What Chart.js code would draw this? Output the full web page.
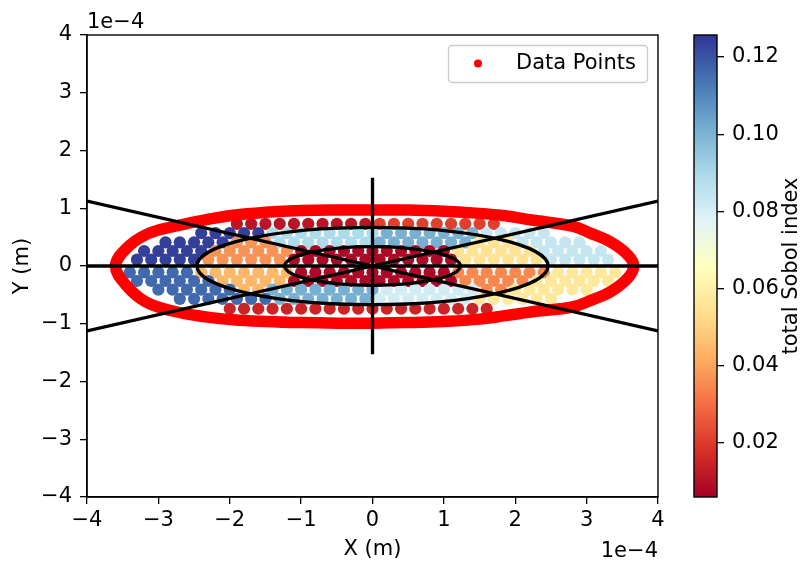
<!DOCTYPE html>
<html><head><meta charset="utf-8">
<script src="https://cdn.jsdelivr.net/npm/chart.js@4.4.1/dist/chart.umd.min.js"></script>
<style>
html,body{margin:0;padding:0;background:#fff;}
#wrap{position:relative;width:804px;height:565px;overflow:hidden;}
#main{position:absolute;left:0;top:0;}
#cb{position:absolute;left:680px;top:0;}
</style></head><body>
<div id="wrap"><canvas id="main" width="804" height="565"></canvas><canvas id="cb" width="124" height="565"></canvas></div>
<script>
// ---- data (x, y in units of 1e-4 m) ----
const axisTicks = [-4,-3,-2,-1,0,1,2,3,4];
const cbTicks = [0.02,0.04,0.06,0.08,0.10,0.12];
const cbMin = 0.006, cbMax = 0.1257;

// interior points, row by row
const rowY = [0.73, 0.57, 0.41, 0.26, 0.11, -0.11, -0.26, -0.41, -0.57, -0.74];
const row1X = [-1.9,-1.7,-1.5,-1.3,-1.1,-0.9,-0.7,-0.5,-0.3,-0.1,0.1,0.3,0.5,0.7,0.9,1.1,1.3,1.5,1.7];
const row1V = [0.011,0.011,0.011,0.011,0.011,0.011,0.011,0.011,0.011,0.011,0.021,0.021,0.021,0.021,0.021,0.021,0.021,0.021,0.021];
const row2X = [-2.4,-2.2,-2.0,-1.8,-1.6,-1.4,-1.2,-1.0,-0.8,-0.6,-0.4,-0.2,0,0.2,0.4,0.6,0.8,1.0,1.2,1.4,1.6,1.8,2.0,2.2,2.4];
const row2V = [0.124,0.124,0.124,0.124,0.124,0.089,0.089,0.089,0.089,0.089,0.089,0.089,0.089,0.101,0.101,0.101,0.101,0.101,0.101,0.101,0.084,0.084,0.084,0.084,0.084];
const row3X = [-2.9,-2.7,-2.5,-2.3,-2.1,-1.9,-1.7,-1.5,-1.3,-1.1,-0.9,-0.7,-0.5,-0.3,-0.1,0.1,0.3,0.5,0.7,0.9,1.1,1.3,1.5,1.7,1.9,2.1,2.3,2.5,2.7,2.9];
const row3V = [0.124,0.124,0.124,0.124,0.124,0.037,0.037,0.037,0.089,0.089,0.089,0.089,0.089,0.089,0.089,0.101,0.101,0.101,0.101,0.101,0.101,0.101,0.055,0.055,0.055,0.084,0.084,0.084,0.084,0.084];
const row4X = [-3.2,-3.0,-2.8,-2.6,-2.4,-2.2,-2.0,-1.8,-1.6,-1.4,-1.2,-1.0,-0.8,-0.6,-0.4,-0.2,0,0.2,0.4,0.6,0.8,1.0,1.2,1.4,1.6,1.8,2.0,2.2,2.4,2.6,2.8,3.0,3.2];
const row4V = [0.124,0.124,0.124,0.124,0.124,0.037,0.037,0.037,0.037,0.037,0.037,0.008,0.008,0.008,0.008,0.008,0.008,0.008,0.008,0.008,0.008,0.008,0.055,0.055,0.055,0.055,0.055,0.055,0.084,0.084,0.084,0.084,0.084];
const row5X = [-3.3,-3.1,-2.9,-2.7,-2.5,-2.3,-2.1,-1.9,-1.7,-1.5,-1.3,-1.1,-0.9,-0.7,-0.5,-0.3,-0.1,0.1,0.3,0.5,0.7,0.9,1.1,1.3,1.5,1.7,1.9,2.1,2.3,2.5,2.7,2.9,3.1,3.3];
const row5V = [0.124,0.124,0.124,0.124,0.124,0.037,0.037,0.037,0.037,0.037,0.037,0.008,0.008,0.008,0.008,0.008,0.008,0.008,0.008,0.008,0.008,0.008,0.008,0.055,0.055,0.055,0.055,0.055,0.055,0.084,0.084,0.084,0.084,0.084];
const row6X = [-3.4,-3.2,-3.0,-2.8,-2.6,-2.4,-2.2,-2.0,-1.8,-1.6,-1.4,-1.2,-1.0,-0.8,-0.6,-0.4,-0.2,0,0.2,0.4,0.6,0.8,1.0,1.2,1.4,1.6,1.8,2.0,2.2,2.4,2.6,2.8,3.0,3.2,3.4];
const row6V = [0.116,0.116,0.116,0.116,0.116,0.044,0.044,0.044,0.044,0.044,0.044,0.044,0.008,0.008,0.008,0.008,0.008,0.008,0.008,0.008,0.008,0.008,0.008,0.035,0.035,0.035,0.035,0.035,0.035,0.035,0.057,0.057,0.057,0.057,0.057];
const row7X = [-3.3,-3.1,-2.9,-2.7,-2.5,-2.3,-2.1,-1.9,-1.7,-1.5,-1.3,-1.1,-0.9,-0.7,-0.5,-0.3,-0.1,0.1,0.3,0.5,0.7,0.9,1.1,1.3,1.5,1.7,1.9,2.1,2.3,2.5,2.7,2.9,3.1,3.3];
const row7V = [0.116,0.116,0.116,0.116,0.116,0.116,0.044,0.044,0.044,0.044,0.044,0.008,0.008,0.008,0.008,0.008,0.008,0.008,0.008,0.008,0.008,0.008,0.008,0.035,0.035,0.035,0.035,0.035,0.057,0.057,0.057,0.057,0.057,0.057];
const row8X = [-3.0,-2.8,-2.6,-2.4,-2.2,-2.0,-1.8,-1.6,-1.4,-1.2,-1.0,-0.8,-0.6,-0.4,-0.2,0,0.2,0.4,0.6,0.8,1.0,1.2,1.4,1.6,1.8,2.0,2.2,2.4,2.6,2.8,3.0];
const row8V = [0.116,0.116,0.116,0.116,0.116,0.116,0.044,0.044,0.101,0.101,0.101,0.101,0.101,0.101,0.101,0.101,0.081,0.081,0.081,0.081,0.081,0.081,0.081,0.035,0.035,0.057,0.057,0.057,0.057,0.057,0.057];
const row9X = [-2.7,-2.5,-2.3,-2.1,-1.9,-1.7,-1.5,-1.3,-1.1,-0.9,-0.7,-0.5,-0.3,-0.1,0.1,0.3,0.5,0.7,0.9,1.1,1.3,1.5,1.7,1.9,2.1,2.3,2.5];
const row9V = [0.116,0.116,0.116,0.116,0.116,0.116,0.116,0.101,0.101,0.101,0.101,0.101,0.101,0.101,0.081,0.081,0.081,0.081,0.081,0.081,0.081,0.057,0.057,0.057,0.057,0.057,0.057];
const row10X = [-2.0,-1.8,-1.6,-1.4,-1.2,-1.0,-0.8,-0.6,-0.4,-0.2,0,0.2,0.4,0.6,0.8,1.0,1.2,1.4,1.6];
const row10V = [0.015,0.015,0.015,0.015,0.015,0.015,0.015,0.015,0.015,0.015,0.015,0.015,0.015,0.015,0.015,0.015,0.015,0.015,0.015];

// red boundary "Data Points" (closed outline)
const boundX = [0,-0.5,-1.0,-1.5,-1.95,-2.34,-2.8,-3.18,-3.46,-3.6,-3.46,-3.18,-2.8,-2.34,-1.95,-1.5,-1.0,-0.5,0,0.5,1.0,1.5,1.86,2.32,2.8,3.05,3.33,3.57,3.66,3.57,3.33,3.05,2.8,2.21,1.86,1.4,1.0,0.5,0];
const boundY = [0.97,0.97,0.96,0.93,0.88,0.80,0.68,0.54,0.29,0,-0.32,-0.62,-0.78,-0.88,-0.93,-0.96,-0.98,-0.99,-0.99,-0.98,-0.96,-0.92,-0.86,-0.78,-0.71,-0.6,-0.45,-0.22,0,0.2,0.42,0.57,0.69,0.80,0.87,0.92,0.95,0.97,0.97];

// black guide lines: [x1,y1,x2,y2]
const guideLines = [[-4,0,4,0],[0,-1.53,0,1.53],[-4,1.125,4,-1.125],[-4,-1.125,4,1.125]];
// guide ellipses centred at origin: semi-axes
const ellipseA = [2.46, 1.23];
const ellipseB = [0.67, 0.335];

// ---- colormap (RdYlBu) ----
const rdylbu = ['#a50026','#d73027','#f46d43','#fdae61','#fee090','#ffffbf','#e0f3f8','#abd9e9','#74add1','#4575b4','#313695'];
function hex2rgb(h){return [parseInt(h.slice(1,3),16),parseInt(h.slice(3,5),16),parseInt(h.slice(5,7),16)];}
function cmap(v){
  let t=(v-cbMin)/(cbMax-cbMin); t=Math.max(0,Math.min(1,t));
  const p=t*(rdylbu.length-1); const i=Math.min(Math.floor(p),rdylbu.length-2); const f=p-i;
  const a=hex2rgb(rdylbu[i]), b=hex2rgb(rdylbu[i+1]);
  return 'rgb('+a.map((c,k)=>Math.round(c+(b[k]-c)*f)).join(',')+')';
}

const rowsX=[row1X,row2X,row3X,row4X,row5X,row6X,row7X,row8X,row9X,row10X];
const rowsV=[row1V,row2V,row3V,row4V,row5V,row6V,row7V,row8V,row9V,row10V];
const interior=[];
rowsX.forEach((xs,r)=>xs.forEach((x,i)=>interior.push({x:x,y:rowY[r],v:rowsV[r][i]})));
const boundary=boundX.map((x,i)=>({x:x,y:boundY[i]}));

const FS=21;
const FONT={family:'DejaVu Sans',size:FS};
const fmt=v=>v<0?'\u2212'+Math.abs(v):String(v);

const datasets=[];
guideLines.forEach(l=>datasets.push({data:[{x:l[0],y:l[1]},{x:l[2],y:l[3]}],showLine:true,borderColor:'#000',borderWidth:3.3,pointRadius:0,order:1,fill:false}));
datasets.push({label:'Data Points',data:boundary,showLine:true,borderColor:'#ff0000',borderWidth:11.5,pointRadius:0,tension:0.4,order:2,fill:false,borderJoinStyle:'round',borderCapStyle:'round'});
datasets.push({label:'sobol',data:interior,pointRadius:6.1,pointBorderWidth:0,borderWidth:0,
  backgroundColor:c=>c.raw?cmap(c.raw.v):'#000',pointBackgroundColor:c=>c.raw?cmap(c.raw.v):'#000',order:3});

const decor={id:'decor',afterDatasetsDraw(chart){
  const {ctx,chartArea:a,scales:{x,y}}=chart;
  ctx.save();
  ctx.beginPath();ctx.rect(a.left,a.top,a.right-a.left,a.bottom-a.top);ctx.clip();
  ctx.strokeStyle='#000';ctx.lineWidth=3.3;
  const cx=x.getPixelForValue(0), cy=y.getPixelForValue(0);
  for(let i=0;i<ellipseA.length;i++){
    ctx.beginPath();
    ctx.ellipse(cx,cy,x.getPixelForValue(ellipseA[i])-cx,cy-y.getPixelForValue(ellipseB[i]),0,0,Math.PI*2);
    ctx.stroke();
  }
  ctx.restore();
  ctx.save();
  ctx.strokeStyle='#000';ctx.lineWidth=1.4;
  ctx.strokeRect(a.left,a.top,a.right-a.left,a.bottom-a.top);
  // legend
  const lx=448.5,ly=45.5,lw=199,lh=37,r=4;
  ctx.beginPath();
  ctx.moveTo(lx+r,ly);ctx.lineTo(lx+lw-r,ly);ctx.quadraticCurveTo(lx+lw,ly,lx+lw,ly+r);
  ctx.lineTo(lx+lw,ly+lh-r);ctx.quadraticCurveTo(lx+lw,ly+lh,lx+lw-r,ly+lh);
  ctx.lineTo(lx+r,ly+lh);ctx.quadraticCurveTo(lx,ly+lh,lx,ly+lh-r);
  ctx.lineTo(lx,ly+r);ctx.quadraticCurveTo(lx,ly,lx+r,ly);ctx.closePath();
  ctx.fillStyle='rgba(255,255,255,0.8)';ctx.fill();
  ctx.strokeStyle='#cccccc';ctx.lineWidth=1.3;ctx.stroke();
  ctx.beginPath();ctx.arc(478,63.5,4,0,Math.PI*2);ctx.fillStyle='#ff0000';ctx.fill();
  ctx.fillStyle='#000';ctx.font=FS+'px "DejaVu Sans"';ctx.textBaseline='middle';ctx.textAlign='left';
  ctx.fillText('Data Points',516,63.5);
  // offset texts
  ctx.textBaseline='alphabetic';
  ctx.fillText('1e\u22124',87,28);
  ctx.textAlign='right';
  ctx.fillText('1e\u22124',658,557);
  ctx.restore();
}};

new Chart(document.getElementById('main'),{
  type:'scatter',
  data:{datasets:datasets},
  options:{
    responsive:false,animation:false,events:[],devicePixelRatio:1,
    layout:{padding:{left:0,top:35,right:146,bottom:0}},
    plugins:{legend:{display:false},tooltip:{enabled:false}},
    scales:{
      x:{type:'linear',min:-4,max:4,
        afterBuildTicks:s=>{s.ticks=axisTicks.map(v=>({value:v}));},
        afterFit:s=>{s.height=68;},
        ticks:{font:FONT,color:'#000',callback:v=>fmt(v),maxRotation:0,autoSkip:false,padding:4},
        grid:{display:true,drawOnChartArea:false,drawTicks:true,tickLength:7,color:'#000',lineWidth:1.3},
        border:{display:true,color:'#000',width:1.4},
        title:{display:true,text:'X (m)',font:FONT,color:'#000',padding:{top:0,bottom:3}}},
      y:{type:'linear',min:-4,max:4,
        afterBuildTicks:s=>{s.ticks=axisTicks.map(v=>({value:v}));},
        afterFit:s=>{s.width=87;},
        ticks:{font:FONT,color:'#000',callback:v=>fmt(v),autoSkip:false,padding:8},
        grid:{display:true,drawOnChartArea:false,drawTicks:true,tickLength:7,color:'#000',lineWidth:1.3},
        border:{display:true,color:'#000',width:1.4},
        title:{display:true,text:'Y (m)',font:FONT,color:'#000',padding:{top:10,bottom:0}}}
    }
  },
  plugins:[decor]
});

// ---- colorbar ----
const cbPlugin={id:'cbar',
  beforeDatasetsDraw(chart){
    const {ctx,chartArea:a}=chart;
    const g=ctx.createLinearGradient(0,a.bottom,0,a.top);
    rdylbu.forEach((c,i)=>g.addColorStop(i/(rdylbu.length-1),c));
    ctx.save();ctx.fillStyle=g;ctx.fillRect(a.left,a.top,a.right-a.left,a.bottom-a.top);ctx.restore();
  },
  afterDraw(chart){
    const {ctx,chartArea:a}=chart;
    ctx.save();ctx.strokeStyle='#000';ctx.lineWidth=1.4;
    ctx.strokeRect(a.left,a.top,a.right-a.left,a.bottom-a.top);
    ctx.translate(112,266);ctx.rotate(-Math.PI/2);
    ctx.fillStyle='#000';ctx.font=FS+'px "DejaVu Sans"';ctx.textAlign='center';ctx.textBaseline='middle';
    ctx.fillText('total Sobol index',0,0);
    ctx.restore();
  }
};
new Chart(document.getElementById('cb'),{
  type:'scatter',
  data:{datasets:[{data:[]}]},
  options:{
    responsive:false,animation:false,events:[],devicePixelRatio:1,
    layout:{padding:{left:14,top:35,right:0,bottom:68}},
    plugins:{legend:{display:false},tooltip:{enabled:false}},
    scales:{
      x:{display:false,min:0,max:1},
      y:{position:'right',min:cbMin,max:cbMax,
        afterBuildTicks:s=>{s.ticks=cbTicks.map(v=>({value:v}));},
        afterFit:s=>{s.width=87;},
        ticks:{font:FONT,color:'#000',callback:v=>Number(v).toFixed(2),autoSkip:false,padding:8},
        grid:{display:true,drawOnChartArea:false,drawTicks:true,tickLength:7,color:'#000',lineWidth:1.3},
        border:{display:false}}
    }
  },
  plugins:[cbPlugin]
});
</script>
</body></html>
